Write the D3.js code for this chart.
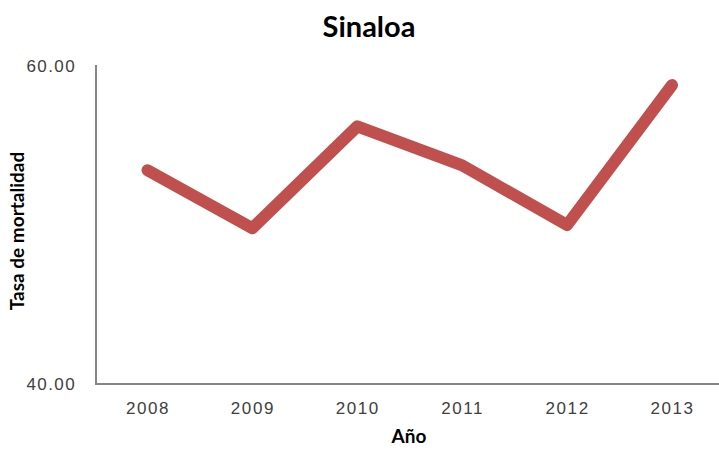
<!DOCTYPE html>
<html><head><meta charset="utf-8">
<script src="https://cdn.jsdelivr.net/npm/d3@7"></script>
<style>body{margin:0;background:#fff;} svg{display:block;font-family:Lato,"Open Sans",sans-serif;}</style>
</head><body><svg id="c" width="719" height="454"></svg>
<script>
const years = ["2008","2009","2010","2011","2012","2013"];
const tasa = [53.45, 49.8, 56.2, 53.75, 50.0, 58.8];
const yTickValues = [40, 60];

const svg = d3.select("#c");
const x = d3.scalePoint().domain(years).range([147.5, 672]);
const y = d3.scaleLinear().domain([40, 60]).range([384, 66]);

// axes
const xAxis = svg.append("g").attr("transform","translate(0,384)")
  .call(d3.axisBottom(x).tickSize(0).tickPadding(18));
xAxis.select(".domain").remove();
svg.append("line").attr("x1",96).attr("x2",719).attr("y1",384).attr("y2",384)
  .attr("stroke","#868686").attr("stroke-width",2);
xAxis.selectAll("text").attr("font-size",17).attr("fill","#404040").attr("font-weight",300)
  .style("letter-spacing","1.6px");

const yAxis = svg.append("g").attr("transform","translate(96,0)")
  .call(d3.axisLeft(y).tickValues(yTickValues).tickSize(0).tickPadding(20).tickFormat(d3.format(".2f")));
yAxis.select(".domain").remove();
svg.append("line").attr("x1",96).attr("x2",96).attr("y1",65).attr("y2",385)
  .attr("stroke","#868686").attr("stroke-width",2);
yAxis.selectAll("text").attr("font-size",17).attr("fill","#404040").attr("font-weight",300)
  .style("letter-spacing","1.4px");

// line
svg.append("path").datum(years.map((d,i)=>[d,tasa[i]]))
  .attr("fill","none").attr("stroke","#C0504D").attr("stroke-width",12)
  .attr("stroke-linejoin","round").attr("stroke-linecap","round")
  .attr("d", d3.line().x(d=>x(d[0])).y(d=>y(d[1])));

// titles
svg.append("text").attr("x",369).attr("y",37).attr("text-anchor","middle")
  .attr("font-size",29).attr("font-weight","bold").attr("fill","#000").text("Sinaloa");
svg.append("text").attr("x",409).attr("y",443).attr("text-anchor","middle")
  .attr("font-size",19).attr("font-weight","bold").attr("fill","#000").text("Año");
svg.append("text").attr("transform","translate(24,231) rotate(-90)").attr("text-anchor","middle")
  .attr("font-size",19).attr("font-weight","bold").attr("fill","#000").text("Tasa de mortalidad");
</script></body></html>
